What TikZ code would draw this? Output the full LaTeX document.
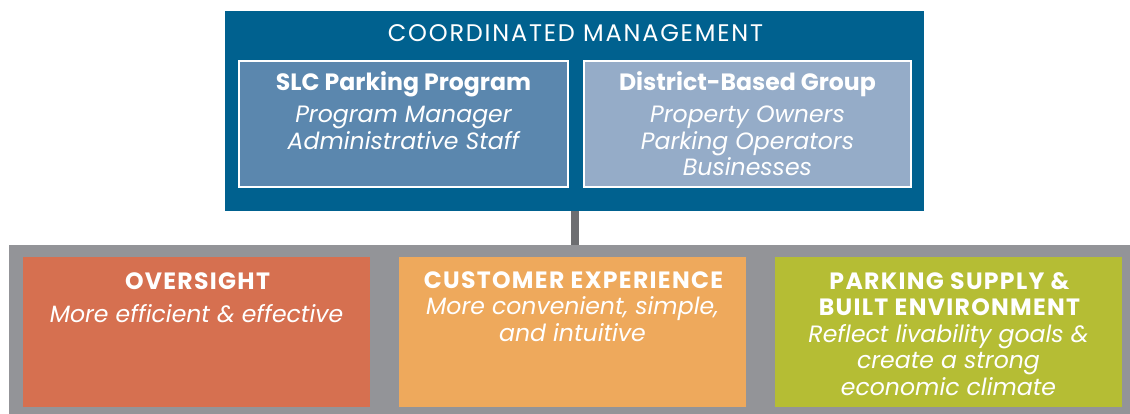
\documentclass[tikz,border=0pt]{standalone}
\usepackage{fontspec}
\setmainfont{Poppins}
\newfontfamily\spacedcaps[LetterSpace=5.5]{Poppins}
\newfontfamily\widecaps[LetterSpace=7.5]{Poppins}
\definecolor{mgmtblue}{RGB}{0,97,143}
\definecolor{slcblue}{RGB}{91,135,174}
\definecolor{distblue}{RGB}{149,172,200}
\definecolor{bandgray}{RGB}{147,148,152}
\definecolor{linkgray}{RGB}{109,110,113}
\definecolor{oversight}{RGB}{214,112,80}
\definecolor{customer}{RGB}{238,169,92}
\definecolor{supply}{RGB}{181,189,52}
\begin{document}
\begin{tikzpicture}[x=1pt,y=-1pt,
  panel/.style={draw=none,inner sep=0pt,outer sep=0pt,anchor=north west},
  subpanel/.style={panel,draw=white,line width=2pt},
  txt/.style={text=white,anchor=base,inner sep=0pt,outer sep=0pt},
  toptitle/.style={txt,font=\widecaps\fontsize{24}{28}\selectfont},
  hdr/.style={txt,font=\bfseries\fontsize{23.6}{28}\selectfont},
  caphdr/.style={txt,font=\spacedcaps\bfseries\fontsize{23.6}{28}\selectfont},
  sub/.style={txt,font=\itshape\fontsize{23.6}{28}\selectfont}]
\useasboundingbox (0,0) rectangle (1130,414);

% coordinated management block
\node[panel,fill=mgmtblue,minimum width=699pt,minimum height=200pt] (mgmt) at (225,11) {};
\node[subpanel,fill=slcblue,minimum width=329pt,minimum height=126pt] (slc) at (239,61) {};
\node[subpanel,fill=distblue,minimum width=327pt,minimum height=126pt] (dist) at (584,61) {};

% goals band
\node[panel,fill=bandgray,minimum width=1121pt,minimum height=169pt] (goals) at (9,245) {};
\node[panel,fill=oversight,minimum width=347pt,minimum height=150pt] (over) at (23,257) {};
\node[panel,fill=customer,minimum width=347pt,minimum height=150pt] (cust) at (399,257) {};
\node[panel,fill=supply,minimum width=347pt,minimum height=150pt] (supp) at (775,257) {};

% link between the two levels
\draw[linkgray,line width=8pt] (mgmt.south) -- (mgmt.south |- goals.north);

% texts
\node[toptitle] (t0) at (575.5,42) {COORDINATED MANAGEMENT};

\node[hdr] (t1) at (403.5,91) {SLC Parking Program};
\node[sub] (t2) at (403.5,123) {Program Manager};
\node[sub] (t3) at (403.5,150) {Administrative Staff};

\node[hdr] (t4) at (747.5,91) {District-Based Group};
\node[sub] (t5) at (747.5,123) {Property Owners};
\node[sub] (t6) at (747.5,150) {Parking Operators};
\node[sub] (t7) at (747.5,176) {Businesses};

\node[caphdr] (t8) at (197.5,289) {OVERSIGHT};
\node[sub] (t9) at (196.5,322) {More efficient \& effective};

\node[caphdr] (t10) at (573.5,288) {CUSTOMER EXPERIENCE};
\node[sub] (t11) at (572.5,314) {More convenient, simple,};
\node[sub] (t12) at (572.5,341) {and intuitive};

\node[caphdr] (t13) at (949.5,289) {PARKING SUPPLY \&};
\node[caphdr] (t14) at (949.5,315) {BUILT ENVIRONMENT};
\node[sub] (t15) at (948.5,342) {Reflect livability goals \&};
\node[sub] (t16) at (948.5,368) {create a strong};
\node[sub] (t17) at (948.5,395) {economic climate};
\end{tikzpicture}
\end{document}
